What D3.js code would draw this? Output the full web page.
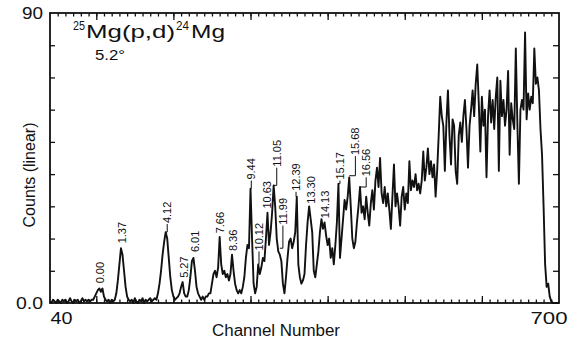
<!DOCTYPE html>
<html><head><meta charset="utf-8">
<script src="https://cdn.jsdelivr.net/npm/d3@7"></script>
<style>
html,body{margin:0;padding:0;background:#fff;}
svg{display:block;font-family:"Liberation Sans",Arial,sans-serif;}
</style></head><body>
<svg id="chart" width="577" height="344"></svg>
<script>
// Deuteron spectrum, counts per 2-channel step from channel 40 to 700
const counts = [
  0.5,0,1,0.5,0,1,0.5,0,1,0.5,          // 40-58
  1,0,0.5,1.5,0.5,0,1,0.5,1,0,          // 60-78
  0.5,1.5,0.5,1,0.5,1,0.5,1,1,2,        // 80-98
  3,4,4.5,3.5,4.5,2,1,0.5,1,0,          // 100-118
  1,0.5,1,3,7,12,17,15,10,5,            // 120-138
  2,1,0.5,1,0,1.5,0.5,0,1,0.5,          // 140-158
  1.5,0,1,0.5,1,1.5,0.5,1,1.5,1,        // 160-178
  3,6,10,15,19,22,20,14,8,4,            // 180-198
  2,1,1.5,2,3,5,6.5,3,2,2,              // 200-218
  4,8,13,14,10,5,3,2,1,2,               // 220-238
  1,2,2,3,3,6,9,10,8,11,                // 240-258
  20.5,12,9,10,8,9,7,9,15,10,           // 260-278
  6,4,3,4,3,5,8,14,18,17,               // 280-298
  35.5,20,6,3,5,12,9,11,14,13,          // 300-318
  20,28,18,22,28,36.5,30,20,16,15,      // 320-338
  13,6,3,8,14,19,20,17,19,22,           // 340-358
  33,12,8,6,7,9,18,25,30,26,            // 360-378
  22,10,8,12,16,22,26,23,25,21,         // 380-398
  18,20,14,17,12,18,25,37,14,20,        // 400-418
  26,32,29,33,39,30,20,17,19,25,        // 420-438
  30,36,28,30,26,33,28,24,31,35,        // 440-458
  29,38,42,36,45,34,31,36,30,34,        // 460-478
  29,23,33,43,30,34,30,24,33,36,        // 480-498
  29,34,31,44,35,38,36,40,35,37,        // 500-518
  34,38,47,38,42,48,40,44,39,43,        // 520-538
  33,41,52,64,58,55,41,56,66,52,        // 540-558
  43,57,55,41,37,52,56,50,58,63,        // 560-578
  54,42,55,60,66,58,68,74,62,47,        // 580-598
  64,55,60,39,58,66,56,63,54,64,        // 600-618
  70,41,69,58,63,55,60,72,46,62,        // 620-638
  57,54,79,56,37,60,63,60,84,57,        // 640-658
  65,60,64,62,79,68,70,66,54,46,        // 660-678
  30,12,5,6,2,0.5,0,0,0,0,              // 680-698
  0                                     // 700
];
const channels = d3.range(40, 701, 2);

const yTicks = [10, 20, 30, 40, 50, 60, 70, 80];
const xMinorTicks = d3.range(50, 700, 10);
const xMajorTicks = [100, 200, 300, 400, 500, 600];

// Excitation energies (MeV) of 24Mg levels marked on the spectrum
const levelLabels  = ["0.00","1.37","4.12","5.27","6.01","7.66","8.36","9.44","10.12","10.63","11.05","11.99","12.39","13.30","14.13","15.17","15.68","16.56"];
const labelChannel = [105, 133, 192, 214, 228, 260, 277, 301, 311, 321, 334, 342, 359, 378, 397, 416, 436, 450];
const labelStart   = [5.8, 18.2, 24.5, 7.5, 15.5, 21.3, 15.8, 38, 16, 29, 42, 24, 34.5, 30.5, 26, 38, 45.6, 39];
const peakChannel  = [null, null, 190, null, null, null, null, 300, 310, null, 330, 338, 360, null, null, 414, 428, 442];
const peakTop      = [null, null, 22, null, null, null, null, 35.5, 12, null, 36.5, 17, 33, null, null, 37, 39.5, 36];

const svg = d3.select("#chart");
const x = d3.scaleLinear().domain([40, 700]).range([50, 559]);
const y = d3.scaleLinear().domain([0, 90]).range([303, 13]);

const data = channels.map((ch, i) => ({ch, c: counts[i]}));

// spectrum trace
svg.append("path")
  .datum(data)
  .attr("fill", "none")
  .attr("stroke", "#111")
  .attr("stroke-width", 1.9)
  .attr("stroke-linejoin", "round")
  .attr("d", d3.line().x(d => x(d.ch)).y(d => y(d.c)));

// inward tick marks on all four sides
function tickAxis(axis, transform) {
  const sel = svg.append("g").attr("transform", transform).call(axis);
  sel.select(".domain").remove();
  sel.selectAll("line").attr("stroke", "#111").attr("stroke-width", 1.3);
  sel.selectAll("text").remove();
  return sel;
}
tickAxis(d3.axisBottom(x).tickValues(xMinorTicks).tickSize(-3.5).tickSizeOuter(0), `translate(0,${y(0)})`);
tickAxis(d3.axisBottom(x).tickValues(xMajorTicks).tickSize(-7).tickSizeOuter(0), `translate(0,${y(0)})`);
tickAxis(d3.axisTop(x).tickValues(xMinorTicks).tickSize(-3.5).tickSizeOuter(0), `translate(0,${y(90)})`);
tickAxis(d3.axisTop(x).tickValues(xMajorTicks).tickSize(-7).tickSizeOuter(0), `translate(0,${y(90)})`);
tickAxis(d3.axisLeft(y).tickValues(yTicks).tickSize(-5).tickSizeOuter(0), `translate(${x(40)},0)`);
tickAxis(d3.axisRight(y).tickValues(yTicks).tickSize(-6).tickSizeOuter(0), `translate(${x(700)},0)`);

// frame
svg.append("rect")
  .attr("x", x(40)).attr("y", y(90))
  .attr("width", x(700) - x(40)).attr("height", y(0) - y(90))
  .attr("fill", "none").attr("stroke", "#111").attr("stroke-width", 1.8);

// end-value labels of the axes
const yLab = svg.append("g").attr("transform", `translate(${x(40)},0)`)
  .call(d3.axisLeft(y).tickValues([0, 90]).tickSize(0).tickPadding(7)
    .tickFormat(d => d === 0 ? "0.0" : "90"));
yLab.select(".domain").remove();
yLab.selectAll("text").attr("font-size", 17).attr("fill", "#111")
  .attr("font-family", "'Liberation Sans',Arial,sans-serif")
  .attr("textLength", d => d === 0 ? 27 : 21)
  .attr("lengthAdjust", "spacingAndGlyphs");

const xLab = svg.append("g").attr("transform", `translate(0,${y(0)})`)
  .call(d3.axisBottom(x).tickValues([40, 700]).tickSize(0).tickPadding(9)
    .tickFormat(d3.format("d")));
xLab.select(".domain").remove();
xLab.selectAll("text").attr("font-size", 17).attr("fill", "#111")
  .attr("font-family", "'Liberation Sans',Arial,sans-serif")
  .attr("text-anchor", d => d === 40 ? "start" : "end")
  .attr("dx", d => d === 40 ? 0 : 8)
  .attr("textLength", d => d === 40 ? 22 : 37)
  .attr("lengthAdjust", "spacingAndGlyphs");

// axis titles
svg.append("text")
  .attr("x", 276).attr("y", 336)
  .attr("text-anchor", "middle")
  .attr("font-size", 16).attr("fill", "#111")
  .attr("textLength", 128).attr("lengthAdjust", "spacingAndGlyphs")
  .text("Channel Number");

svg.append("text")
  .attr("transform", "translate(35,175) rotate(-90)")
  .attr("text-anchor", "middle")
  .attr("font-size", 16).attr("fill", "#111")
  .text("Counts (linear)");

// reaction and angle
const title = svg.append("g").attr("fill", "#111");
title.append("text").attr("x", 73).attr("y", 30).attr("font-size", 12)
  .attr("textLength", 12).attr("lengthAdjust", "spacingAndGlyphs").text("25");
title.append("text").attr("x", 86).attr("y", 38).attr("font-size", 18)
  .attr("textLength", 89).attr("lengthAdjust", "spacingAndGlyphs").text("Mg(p,d)");
title.append("text").attr("x", 176).attr("y", 30).attr("font-size", 12)
  .attr("textLength", 13).attr("lengthAdjust", "spacingAndGlyphs").text("24");
title.append("text").attr("x", 191).attr("y", 38).attr("font-size", 18)
  .attr("textLength", 34).attr("lengthAdjust", "spacingAndGlyphs").text("Mg");
svg.append("text").attr("x", 95).attr("y", 60).attr("font-size", 15).attr("fill", "#111")
  .attr("textLength", 30).attr("lengthAdjust", "spacingAndGlyphs").text("5.2°");

// level labels with leader lines
const lv = svg.append("g");
levelLabels.forEach((lab, i) => {
  const lx = x(labelChannel[i]);
  const ly = y(labelStart[i]);
  lv.append("text")
    .attr("transform", `translate(${lx},${ly - 1}) rotate(-90)`)
    .attr("dy", "0.36em")
    .attr("font-size", 11).attr("fill", "#111")
    .text(lab);
  if (peakChannel[i] !== null) {
    const pts = [[lx, ly], [lx, y(peakTop[i])], [x(peakChannel[i]), y(peakTop[i])]];
    lv.append("path")
      .attr("d", d3.line()(pts))
      .attr("fill", "none").attr("stroke", "#111").attr("stroke-width", 1);
  }
});
</script>
</body></html>
